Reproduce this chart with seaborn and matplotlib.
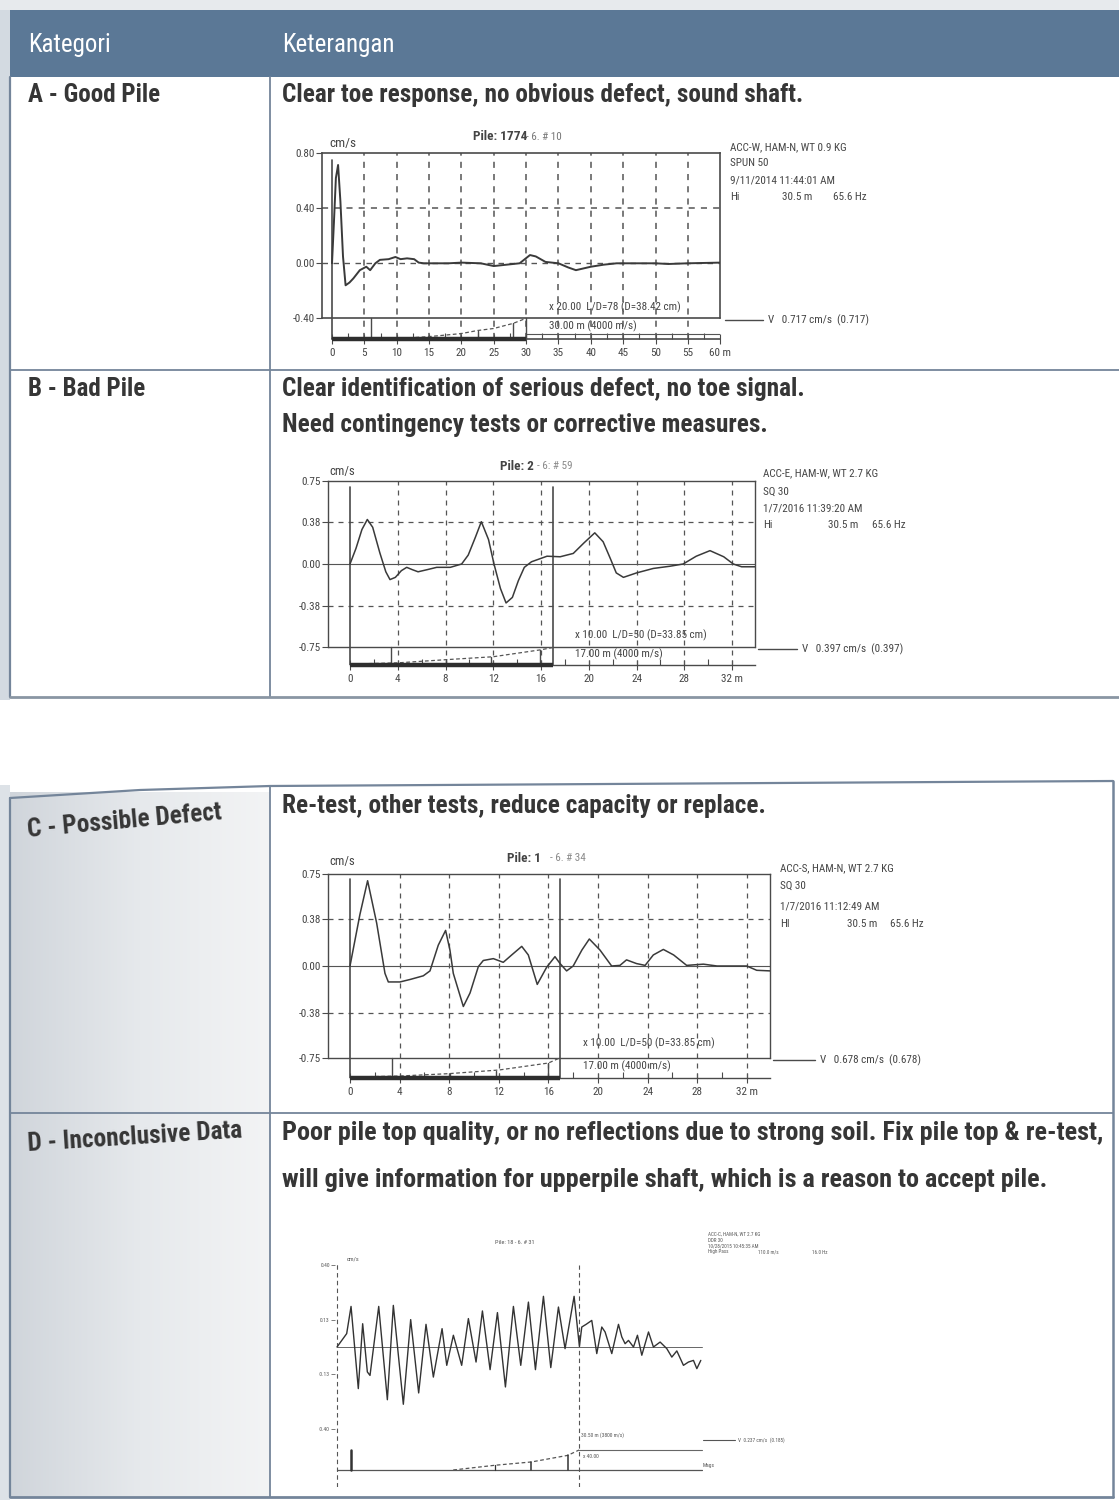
import os
import numpy as np
import pandas as pd
import seaborn as sns
import matplotlib
matplotlib.use("Agg")
import matplotlib.pyplot as plt
from matplotlib import font_manager as fm
from matplotlib.font_manager import FontProperties
from matplotlib.colors import LinearSegmentedColormap

# ---------------- table text ----------------
HEADERS = ["Kategori", "Keterangan"]
CATEGORIES = ["A - Good Pile", "B - Bad Pile", "C - Possible Defect", "D - Inconclusive Data"]
DESCRIPTIONS = [
    ["Clear toe response, no obvious defect, sound shaft."],
    ["Clear identification of serious defect, no toe signal.",
     "Need contingency tests or corrective measures."],
    ["Re-test, other tests, reduce capacity or replace."],
    ["Poor pile top quality, or no reflections due to strong soil. Fix pile top & re-test,",
     "will give information for upperpile shaft, which is a reason to accept pile."],
]

# ---------------- velocity traces (depth in m, velocity in cm/s) ----------------
A_DEPTH = [0, 0.3, 0.6, 0.94, 1.3, 1.7, 2.1, 2.7, 3.3, 4.3, 5.3, 5.9, 6.7, 7.4, 8.75, 9.8,
           10.6, 11.6, 12.7, 13.4, 14.2, 18, 20, 23, 25, 27, 29, 30.6, 31.5, 33, 35, 36.5,
           37.7, 40, 42, 44, 50, 52, 55, 60]
A_VEL = [0, 0.30, 0.62, 0.715, 0.45, 0.05, -0.16, -0.14, -0.11, -0.05, -0.025, -0.05, 0.0,
         0.025, 0.03, 0.046, 0.03, 0.036, 0.03, 0.005, 0.0, 0.0, 0.005, 0.0, -0.02, -0.01,
         0.0, 0.06, 0.05, 0.01, 0.0, -0.03, -0.05, -0.025, -0.01, 0.0, 0.0, -0.005, 0.0, 0.005]

B_DEPTH = [0, 0.5, 1.0, 1.45, 1.9, 2.5, 3.0, 3.35, 3.8, 4.3, 4.75, 5.2, 5.7, 6.5, 7.26, 8.4,
           9.35, 9.9, 10.5, 11.0, 11.6, 12.06, 12.6, 13.07, 13.6, 14.1, 14.6, 15.2, 16.5,
           17.6, 18.7, 19.6, 20.5, 21.2, 21.8, 22.3, 22.9, 24.0, 25.4, 26.8, 27.9, 29.0,
           30.15, 31.3, 32.1, 32.8, 33.9]
B_VEL = [0, 0.14, 0.31, 0.40, 0.33, 0.10, -0.07, -0.14, -0.12, -0.06, -0.03, -0.05, -0.07,
         -0.05, -0.03, -0.03, 0.0, 0.08, 0.24, 0.38, 0.22, 0.0, -0.22, -0.35, -0.30, -0.15,
         -0.03, 0.02, 0.07, 0.065, 0.095, 0.19, 0.28, 0.20, 0.05, -0.08, -0.12, -0.08, -0.04,
         -0.02, 0.0, 0.07, 0.12, 0.065, 0.0, -0.025, -0.025]

C_DEPTH = [0, 0.8, 1.42, 2.15, 2.82, 3.09, 4.03, 4.84, 5.91, 6.45, 7.12, 7.71, 8.06, 8.33,
           9.14, 9.68, 10.35, 10.75, 11.56, 12.36, 13.04, 13.85, 14.38, 15.1, 15.86, 16.53,
           16.94, 17.47, 18.0, 18.7, 19.3, 20.16, 21.1, 21.77, 22.3, 23.1, 23.8, 24.46,
           25.27, 26.1, 27.15, 28.5, 29.6, 32.0, 32.8, 33.9]
C_VEL = [0, 0.42, 0.695, 0.35, -0.06, -0.13, -0.13, -0.11, -0.08, -0.04, 0.17, 0.29, 0.13,
         -0.06, -0.33, -0.22, -0.005, 0.045, 0.06, 0.03, 0.09, 0.16, 0.09, -0.15, -0.01,
         0.076, 0.02, -0.04, 0.0, 0.13, 0.22, 0.13, 0.0, 0.005, 0.05, 0.02, 0.005, 0.09,
         0.135, 0.09, 0.005, 0.015, 0.0, 0.0, -0.035, -0.04]

D_DEPTH = [0, 1.20, 1.74, 2.64, 3.18, 3.76, 4.09, 5.17, 6.24, 6.98, 8.22, 9.13, 10.12, 11.03,
           11.94, 13.02, 13.60, 14.42, 15.45, 16.28, 17.23, 18.02, 18.97, 19.88, 20.87,
           21.86, 22.77, 23.72, 24.59, 25.58, 26.49, 27.44, 28.26, 29.38, 30.04, 30.33,
           30.87, 31.57, 32.19, 32.81, 33.22, 34.05, 34.88, 35.29, 35.70, 36.12, 36.74,
           37.23, 37.77, 38.60, 39.21, 40.04, 40.87, 41.49, 42.11, 42.93, 43.55, 44.17,
           44.59, 45.08]
D_VEL = [0, 0.065, 0.197, -0.202, 0.113, -0.121, -0.138, 0.197, -0.256, 0.202, -0.278, 0.133,
         -0.223, 0.110, -0.146, 0.089, -0.089, 0.057, -0.089, 0.138, -0.073, 0.175, -0.110,
         0.167, -0.194, 0.197, -0.089, 0.218, -0.110, 0.246, -0.100, 0.194, -0.008, 0.246,
         0.003, 0.097, 0.110, 0.129, -0.032, 0.097, 0.073, -0.032, 0.110, 0.049, 0.016,
         0.032, 0.0, 0.057, -0.040, 0.073, 0.0, 0.024, -0.008, -0.049, -0.019, -0.089,
         -0.073, -0.065, -0.105, -0.065]

# ---------------- axis ticks ----------------
A_YTICKS = [0.80, 0.40, 0.00, -0.40]
A_YLABELS = ["0.80", "0.40", "0.00", "-0.40"]
A_XTICKS = [0, 5, 10, 15, 20, 25, 30, 35, 40, 45, 50, 55, 60]
A_XLABELS = ["0", "5", "10", "15", "20", "25", "30", "35", "40", "45", "50", "55", "60 m"]

BC_YTICKS = [0.75, 0.38, 0.00, -0.38, -0.75]
BC_YLABELS = ["0.75", "0.38", "0.00", "-0.38", "-0.75"]
BC_XTICKS = [0, 4, 8, 12, 16, 20, 24, 28, 32]
BC_XLABELS = ["0", "4", "8", "12", "16", "20", "24", "28", "32 m"]

D_YTICKS = [0.40, 0.13, -0.13, -0.40]
D_YLABELS = ["0.40", "0.13", "-0.13", "-0.40"]

# ---------------- test headers ----------------
A_TITLE = ("Pile: 1774", "- 6. # 10")
B_TITLE = ("Pile: 2", "- 6: # 59")
C_TITLE = ("Pile: 1", "- 6. # 34")
D_TITLE = "Pile: 18 - 6. # 31"

A_INFO = ["ACC-W, HAM-N, WT 0.9 KG", "SPUN 50", "9/11/2014 11:44:01 AM"]
A_FILTER = ["Hi", "30.5 m", "65.6 Hz"]
A_VMAX = "V   0.717 cm/s  (0.717)"
A_SCALE = ["x 20.00  L/D=78 (D=38.42 cm)", "30.00 m (4000 m/s)"]

B_INFO = ["ACC-E, HAM-W, WT 2.7 KG", "SQ 30", "1/7/2016 11:39:20 AM"]
B_FILTER = ["Hi", "30.5 m", "65.6 Hz"]
B_VMAX = "V   0.397 cm/s  (0.397)"
B_SCALE = ["x 10.00  L/D=50 (D=33.85 cm)", "17.00 m (4000 m/s)"]

C_INFO = ["ACC-S, HAM-N, WT 2.7 KG", "SQ 30", "1/7/2016 11:12:49 AM"]
C_FILTER = ["HI", "30.5 m", "65.6 Hz"]
C_VMAX = "V   0.678 cm/s  (0.678)"
C_SCALE = ["x 10.00  L/D=50 (D=33.85 cm)", "17.00 m (4000 m/s)"]

D_INFO = ["ACC-C, HAM-N, WT 2.7 KG", "DDR 30", "10/28/2015 10:45:35 AM"]
D_FILTER = ["High Pass", "110.0 m/s", "16.0 Hz"]
D_VMAX = "V  0.237 cm/s  (0.185)"
D_SCALE = ["30.50 m (3800 m/s)", "x 40.00", "Mags"]

# ---------------- fonts ----------------
sns.set_theme(style="white")
plt.rcParams["font.family"] = ["Liberation Sans", "DejaVu Sans"]


def font_file(stems):
    files = {os.path.splitext(os.path.basename(f.fname))[0].lower(): f.fname
             for f in fm.fontManager.ttflist}
    for s in stems:
        if s.lower() in files:
            return files[s.lower()]
    return None


BOLD_FILE = font_file(["LiberationSansNarrow-Bold", "ArialNarrowBold", "RobotoCondensed-Bold",
                       "NotoSans-CondensedBold", "NotoSans-SemiCondensedBold",
                       "OpenSans_Condensed-Bold", "OpenSansCondensed-Bold"])
REG_FILE = font_file(["LiberationSansNarrow-Regular", "ArialNarrow", "RobotoCondensed-Regular",
                      "NotoSans-Condensed", "NotoSans-SemiCondensed",
                      "OpenSans_Condensed-Regular", "OpenSansCondensed-Light"])
CONDENSED = BOLD_FILE is not None and REG_FILE is not None
FS = 1.0 if CONDENSED else 0.84


def fprop(size, bold=False):
    if CONDENSED:
        return FontProperties(fname=BOLD_FILE if bold else REG_FILE, size=size * FS)
    return FontProperties(family="Liberation Sans", weight="bold" if bold else "normal",
                          size=size * FS)


INK = "#3a3a3a"
EDGE = "#4a4a4a"
GRID = "#555555"
RULE = "#74859a"
BAND = "#5b7896"
TXT = "#363636"

W, H = 1119, 1504
fig = plt.figure(figsize=(W / 100, H / 100), dpi=100)
fig.patch.set_facecolor("white")
page = fig.add_axes([0, 0, 1, 1])
page.axis("off")


def T(x, y, s, size, bold=False, **kw):
    kw.setdefault("color", TXT)
    kw.setdefault("va", "center")
    return page.text(x, y, s, fontproperties=fprop(size, bold), **kw)


# ---------------- page / table ----------------
page.add_patch(plt.Rectangle((0, 0), W, 10, color="#e7eaed", lw=0, zorder=0))
page.add_patch(plt.Rectangle((0, 10), 10, 690, color="#d3dae1", lw=0, zorder=0))
page.add_patch(plt.Rectangle((10, 10), W - 10, 67, color=BAND, lw=0, zorder=1))

shade = LinearSegmentedColormap.from_list("shade", ["#d0d5db", "#e6e9ec", "#f3f4f5"])
grad = np.tile(np.linspace(0, 1, 256), (8, 1))
page.imshow(grad, extent=[10, 270, 1497, 792], aspect="auto", cmap=shade, zorder=0)
page.add_patch(plt.Rectangle((0, 785), 10, 715, color="#dde2e7", lw=0, zorder=0))

# table 1 rules
page.plot([10, 10], [77, 697], color=RULE, lw=1.6)
page.plot([270, 270], [77, 697], color=RULE, lw=1.3)
page.plot([10, W], [370, 370], color=RULE, lw=1.3)
page.plot([10, W], [697, 697], color="#8a96a3", lw=2.0)
# table 2 rules
page.plot([10, 140, 270, 1113], [798, 790, 786, 781], color=RULE, lw=1.6)
page.plot([10, 10], [798, 1497], color=RULE, lw=1.6)
page.plot([270, 270], [786, 1497], color=RULE, lw=1.3)
page.plot([1113, 1113], [781, 1497], color=RULE, lw=1.8)
page.plot([10, 1113], [1113, 1113], color=RULE, lw=1.3)
page.plot([10, 1113], [1497, 1497], color=RULE, lw=2.0)

T(28, 45, HEADERS[0], 18, color="white")
T(282, 45, HEADERS[1], 18, color="white")

T(28, 95, CATEGORIES[0], 18, bold=True)
T(28, 389, CATEGORIES[1], 18, bold=True)
T(28, 837, CATEGORIES[2], 18.3, bold=True, va="baseline", rotation=5.2,
  rotation_mode="anchor")
T(28, 1151, CATEGORIES[3], 18.3, bold=True, va="baseline", rotation=3.6,
  rotation_mode="anchor")

desc_y = [[95], [389, 425], [806], [1133, 1180]]
desc_size = [18.2, 18.3, 18.3, 18.9]
for lines, ys, sz in zip(DESCRIPTIONS, desc_y, desc_size):
    for s, y in zip(lines, ys):
        T(282, y, s, sz, bold=True)

page.set_xlim(0, W)
page.set_ylim(H, 0)


# ---------------- panel helpers ----------------
def place_panel(x0, pxm, xlim, y0, pxu, ylim):
    l = x0 + xlim[0] * pxm
    r = x0 + xlim[1] * pxm
    t = y0 - ylim[1] * pxu
    b = y0 - ylim[0] * pxu
    ax = fig.add_axes([l / W, 1 - b / H, (r - l) / W, (b - t) / H])
    ax.set_facecolor("none")
    return ax


def style_ticklabels(ax, size):
    for lab in ax.get_xticklabels() + ax.get_yticklabels():
        lab.set_fontproperties(fprop(size))


def box_panel(ax, depth, vel, p):
    x_lo, x_hi = p["xlim"]
    y_lo, y_hi = p["ylim"]
    vbot = p["vbot"]
    sns.lineplot(x=np.asarray(depth), y=np.asarray(vel), ax=ax, color=INK,
                 linewidth=p["lw"], sort=False, estimator=None, zorder=6)
    ax.set_xlim(x_lo, x_hi)
    ax.set_ylim(y_lo, y_hi)
    ax.set_xlabel("")
    ax.set_ylabel("")
    for s in ax.spines.values():
        s.set_visible(True)
        s.set_color(EDGE)
        s.set_linewidth(p["box_lw"])
    ax.spines["left"].set_bounds(vbot, y_hi)
    ax.spines["right"].set_bounds(vbot, y_hi)
    ax.spines["bottom"].set_bounds(0, x_hi)
    ax.plot([x_lo, x_hi], [vbot, vbot], color=EDGE, lw=p["box_lw"], clip_on=False)

    dash = (0, (4, 4))
    for gx in p["vgrid"]:
        ax.plot([gx, gx], [y_lo, y_hi], color=GRID, lw=p["grid_lw"], ls=dash, zorder=2)
    for gy in p["hgrid"]:
        ax.plot([x_lo, x_hi], [gy, gy], color=GRID, lw=p["grid_lw"], ls=dash, zorder=2)
    ax.plot([x_lo, x_hi], [0, 0], color=GRID, lw=p["grid_lw"] * 0.9,
            ls=dash if p["zero_dashed"] else "-", zorder=2)
    for mx in p["markers"]:
        ax.plot([mx, mx], [y_lo, p["marker_top"]], color=EDGE, lw=1.2, zorder=4)

    def sy(f):
        return y_lo + f * (vbot - y_lo)

    ax.plot([0, p["toe"]], [y_lo, y_lo], color="#2e2e2e", lw=3.2,
            solid_capstyle="butt", clip_on=False, zorder=5)
    ax.plot(p["amp_x"], [sy(f) for f in p["amp_f"]], color=GRID, lw=0.9,
            ls=(0, (3, 2)), zorder=4)
    for bx, bf in p["bars"]:
        ax.plot([bx, bx], [y_lo, sy(bf)], color=EDGE, lw=1.0, zorder=4)
    if p.get("toe_line") is not None:
        ax.plot([p["toe"], x_hi], [sy(p["toe_line"])] * 2, color=GRID, lw=0.8)

    ax.set_yticks(p["yticks"])
    ax.set_yticklabels(p["ylabels"])
    ax.set_xticks(p["xticks"])
    ax.set_xticklabels(p["xlabels"])
    ax.set_xticks(p["xminor"], minor=True)
    ax.tick_params(axis="y", left=True, direction="out", length=4, width=0.8,
                   color=EDGE, labelcolor="#444", pad=1)
    ax.tick_params(axis="x", which="major", bottom=True, direction="inout", length=7,
                   width=0.8, color=EDGE, labelcolor="#444", pad=3)
    ax.tick_params(axis="x", which="minor", bottom=True, direction="in", length=4,
                   width=0.8, color=EDGE)
    style_ticklabels(ax, 8)


def info(x, ys, lines, cols_x, cols, vline, vtext, size=8):
    for s, y in zip(lines, ys[:3]):
        T(x, y, s, size, color="#444")
    for cx, s in zip(cols_x, cols):
        T(cx, ys[3], s, size, color="#444")
    x0, x1, y = vline
    page.plot([x0, x1], [y, y], color=EDGE, lw=1.0)
    T(x1 + 5, y, vtext, size, color="#444")


# ---------------- A: good pile ----------------
axA = place_panel(332, 6.47, (-1.6, 60.0), 263.3, 137.5, (-0.548, 0.80))
box_panel(axA, A_DEPTH, A_VEL, dict(
    xlim=(-1.6, 60.0), ylim=(-0.548, 0.80), vbot=-0.40, lw=1.4, box_lw=1.2, grid_lw=1.1,
    vgrid=[5, 10, 15, 20, 25, 30, 35, 40, 45, 50, 55], hgrid=[0.40], zero_dashed=True,
    markers=[0], marker_top=0.75, toe=30,
    amp_x=[10, 15, 20, 22.5, 25, 28, 30], amp_f=[0.0, 0.1, 0.25, 0.4, 0.5, 0.75, 1.0],
    bars=[(6.0, 1.0), (22.5, 0.4), (28.0, 0.75), (30, 1.0)], toe_line=0.22,
    yticks=A_YTICKS, ylabels=A_YLABELS, xticks=A_XTICKS, xlabels=A_XLABELS,
    xminor=list(np.arange(0, 60.1, 2.5))))
T(343, 143, "cm/s", 9.5, color="#444", ha="center")
T(473, 137, A_TITLE[0], 9.5, bold=True, color="#444")
T(526, 137, A_TITLE[1], 8, color="#777")
T(549, 307, A_SCALE[0], 8, color="#444")
T(549, 326, A_SCALE[1], 8, color="#444")
info(730, [147, 163, 180, 197], A_INFO, [730, 782, 833], A_FILTER,
     (725, 763, 320), A_VMAX)

# ---------------- B: bad pile ----------------
axB = place_panel(350, 11.94, (-1.84, 33.9), 564, 111.3, (-0.907, 0.75))
box_panel(axB, B_DEPTH, B_VEL, dict(
    xlim=(-1.84, 33.9), ylim=(-0.907, 0.75), vbot=-0.75, lw=1.1, box_lw=1.0, grid_lw=0.9,
    vgrid=[4, 8, 12, 16, 20, 24, 28, 32], hgrid=[0.38, -0.38], zero_dashed=False,
    markers=[0, 17], marker_top=0.695, toe=17,
    amp_x=[0, 4, 8, 12, 16, 17], amp_f=[0.05, 0.12, 0.3, 0.47, 0.87, 1.0],
    bars=[(3.4, 1.0), (8.0, 0.3), (11.8, 0.45), (15.9, 0.85)],
    yticks=BC_YTICKS, ylabels=BC_YLABELS, xticks=BC_XTICKS, xlabels=BC_XLABELS,
    xminor=list(range(0, 34, 2))))
T(342, 472, "cm/s", 9, color="#444", ha="center")
T(500, 466, B_TITLE[0], 9.5, bold=True, color="#444")
T(537, 466, B_TITLE[1], 8, color="#888")
T(575, 635, B_SCALE[0], 8, color="#444")
T(575, 654, B_SCALE[1], 8, color="#444")
info(763, [473, 492, 508, 525], B_INFO, [763, 828, 872], B_FILTER,
     (758, 797, 649), B_VMAX)

# ---------------- C: possible defect ----------------
axC = place_panel(350, 12.4, (-1.8, 33.9), 966, 122.7, (-0.913, 0.75))
box_panel(axC, C_DEPTH, C_VEL, dict(
    xlim=(-1.8, 33.9), ylim=(-0.913, 0.75), vbot=-0.75, lw=1.1, box_lw=1.0, grid_lw=0.9,
    vgrid=[4, 8, 12, 16, 20, 24, 28, 32], hgrid=[0.38, -0.38], zero_dashed=False,
    markers=[0, 16.9], marker_top=0.71, toe=16.9,
    amp_x=[0, 4, 8, 12, 16, 16.9], amp_f=[0.05, 0.1, 0.22, 0.4, 0.75, 1.0],
    bars=[(3.35, 1.0), (8.1, 0.22), (11.8, 0.35), (16.0, 0.75)],
    yticks=BC_YTICKS, ylabels=BC_YLABELS, xticks=BC_XTICKS, xlabels=BC_XLABELS,
    xminor=list(range(0, 34, 2))))
T(342, 862, "cm/s", 9, color="#444", ha="center")
T(507, 858, C_TITLE[0], 9.5, bold=True, color="#444")
T(550, 858, C_TITLE[1], 8, color="#888")
T(583, 1043, C_SCALE[0], 8, color="#444")
T(583, 1066, C_SCALE[1], 8, color="#444")
info(780, [868, 886, 906, 924], C_INFO, [780, 847, 890], C_FILTER,
     (773, 815, 1060), C_VMAX)

# ---------------- D: inconclusive data ----------------
axD = place_panel(337, 8.07, (-0.2, 45.3), 1347, 206, (-0.68, 0.42))
sns.lineplot(x=np.asarray(D_DEPTH), y=np.asarray(D_VEL), ax=axD, color="#333333",
             linewidth=1.0, sort=False, estimator=None, zorder=5)
axD.set_xlim(-0.2, 45.3)
axD.set_ylim(-0.68, 0.42)
axD.set_xlabel("")
axD.set_ylabel("")
for s in axD.spines.values():
    s.set_visible(False)
axD.plot([0, 0], [-0.68, 0.41], color=GRID, lw=0.8, ls=(0, (4, 3)))
axD.plot([30, 30], [-0.68, 0.40], color=GRID, lw=0.8, ls=(0, (4, 3)))
axD.plot([0, 45.2], [0, 0], color="#666", lw=0.7)
axD.plot([0, 45.2], [-0.597, -0.597], color="#555", lw=0.9)
axD.plot([30, 45.2], [-0.50, -0.50], color="#666", lw=0.8)
axD.plot([14.4, 19.6, 24.1, 28.6, 30], [-0.597, -0.574, -0.558, -0.526, -0.50],
         color="#555", lw=0.9, ls=(0, (3, 2)))
for bx, top, lw in [(1.74, -0.498, 1.8), (19.6, -0.574, 0.9), (24.1, -0.556, 1.1),
                    (28.6, -0.526, 1.1)]:
    axD.plot([bx, bx], [-0.597, top], color="#333", lw=lw)
axD.set_xticks([])
axD.set_yticks(D_YTICKS)
axD.set_yticklabels(D_YLABELS)
axD.tick_params(axis="y", left=True, direction="out", length=3, width=0.6, color="#666",
                labelcolor="#555", pad=1)
style_ticklabels(axD, 4)
T(347, 1259, "cm/s", 4.5, color="#555")
T(495, 1243, D_TITLE, 4.5, color="#555")
T(581, 1435, D_SCALE[0], 4, color="#555")
T(583, 1456, D_SCALE[1], 4, color="#555")
T(703, 1466, D_SCALE[2], 4, color="#555")
for s, y in zip(D_INFO, [1234, 1240, 1246]):
    T(708, y, s, 3.7, color="#555")
for cx, s in zip([708, 758, 812], D_FILTER):
    T(cx, 1252, s, 3.7, color="#555")
page.plot([703, 735], [1440, 1440], color="#555", lw=0.8)
T(738, 1440, D_VMAX, 3.8, color="#555")

fig.savefig("out.png", dpi=100, facecolor="white")
